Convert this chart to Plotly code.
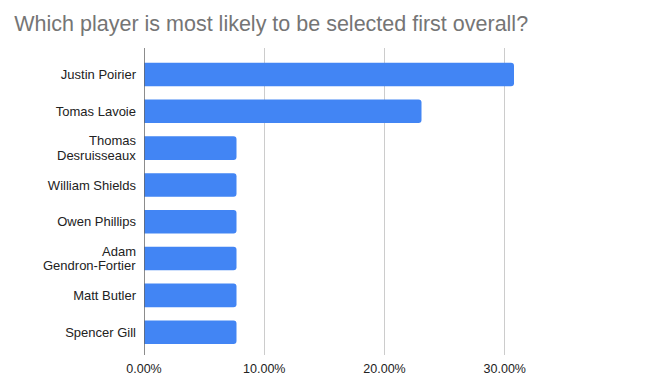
import plotly.graph_objects as go

players = ["Justin Poirier", "Tomas Lavoie", "Thomas\nDesruisseaux", "William Shields",
           "Owen Phillips", "Adam\nGendron-Fortier", "Matt Butler", "Spencer Gill"]
shares = [4/13, 3/13, 1/13, 1/13, 1/13, 1/13, 1/13, 1/13]
tick_vals = [0, 0.1, 0.2, 0.3, 0.4]
tick_text = ["0.00%", "10.00%", "20.00%", "30.00%", ""]

fig = go.Figure(go.Bar(
    x=shares, y=list(range(len(players))), orientation="h",
    marker=dict(color="#4285F4", cornerradius=3, line=dict(width=0)),
    width=0.64, hoverinfo="skip",
))

label_font = dict(size=13, color="#222222", family="Liberation Sans, Arial, sans-serif")
single = [p if "\n" not in p else "" for p in players]
for i, p in enumerate(players):
    if "\n" in p:
        lines = p.split("\n")
        for j, line in enumerate(lines):
            fig.add_annotation(text=line, xref="paper", yref="y", x=0, y=i,
                               xanchor="right", yanchor="middle", xshift=-7,
                               yshift=7.4 - 14.8 * j, showarrow=False, font=label_font,
                               borderpad=0)

fig.update_layout(
    width=650, height=392,
    margin=dict(l=144, r=25, t=48, b=37),
    paper_bgcolor="white", plot_bgcolor="white",
    font=dict(family="Liberation Sans, Arial, sans-serif", color="#222222", size=12),
    title=dict(text="Which player is most likely to be selected first overall?",
               x=0.022, xanchor="left", y=0.94, yanchor="middle",
               font=dict(size=21.5, color="#757575")),
    showlegend=False,
)
fig.update_xaxes(range=[0, 0.4], tickvals=tick_vals, ticktext=tick_text,
                 showgrid=True, gridcolor="#cccccc", gridwidth=1,
                 zeroline=False, showline=False, ticks="", ticklabelstandoff=4,
                 tickfont=dict(size=12.5, color="#222222"))
fig.update_yaxes(range=[7.62, -0.72], tickvals=list(range(len(players))), ticktext=single,
                 showgrid=False, zeroline=False, showline=False, ticks="",
                 ticklabelstandoff=7, tickfont=label_font)
fig.add_shape(type="line", xref="x", yref="paper", x0=0, x1=0, y0=0, y1=1,
              line=dict(color="#666666", width=1.5))

fig.write_html("out.html", config={"displayModeBar": False},
               post_script="document.body.style.margin='0';")
